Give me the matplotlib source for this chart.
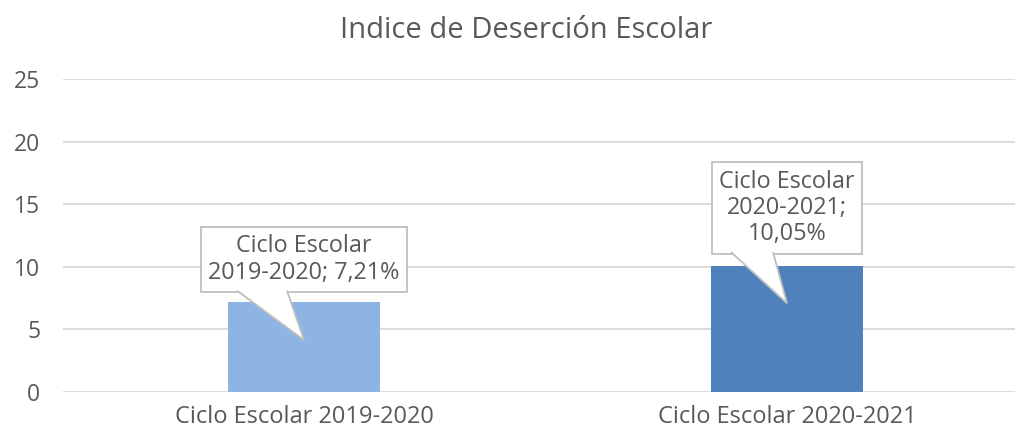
import matplotlib
matplotlib.use("Agg")
import matplotlib.pyplot as plt
from matplotlib.patches import Polygon

categories = ["Ciclo Escolar 2019-2020", "Ciclo Escolar 2020-2021"]
values = [7.21, 10.05]
callout_labels = ["Ciclo Escolar\n2019-2020; 7,21%", "Ciclo Escolar\n2020-2021;\n10,05%"]
bar_colors = ["#8EB4E3", "#4F81BD"]
yticks = [0, 5, 10, 15, 20, 25]
title = "Indice de Deserción Escolar"

plt.rcParams['font.family'] = ['Open Sans', 'DejaVu Sans']
txt = "#595959"
edge = "#bfbfbf"
W, H = 1015, 432
fig = plt.figure(figsize=(W / 100, H / 100), dpi=100)
ax = fig.add_axes([62.5 / W, 1 - 392 / H, 966 / W, 313 / H])
x = list(range(len(categories)))
ax.bar(x, values, width=0.315, color=bar_colors, zorder=2)
ax.set_xlim(-0.5, 1.5)
ax.set_ylim(0, 25)
ax.set_yticks(yticks)
ax.set_xticks(x)
ax.set_xticklabels(categories)
ax.tick_params(axis='both', length=0, colors=txt)
ax.tick_params(axis='y', pad=16, labelsize=16.5)
ax.tick_params(axis='x', pad=9.5, labelsize=17)
ax.grid(axis='y', color="#d9d9d9", linewidth=1.3, zorder=0)
for s in ax.spines.values():
    s.set_visible(False)

# callout layout (box centre in data y, wedge base offsets in px, tip fraction of bar)
text_y = [10.58, 14.7]
tip_frac = [0.575, 0.705]
base_off = [(-67, -17), (-56, -14)]

texts = []
for i, lab in enumerate(callout_labels):
    t = ax.text(x[i], text_y[i], lab, ha='center', va='center', fontsize=16.8,
                color=txt, linespacing=1.12, zorder=5,
                bbox=dict(boxstyle="square,pad=0.32", fc='white', ec=edge, lw=1.3))
    texts.append(t)

fig.canvas.draw()
inv = ax.transData.inverted()
for i, t in enumerate(texts):
    bb = t.get_bbox_patch().get_window_extent()
    cx_px = ax.transData.transform((x[i], 0))[0]
    ybot = bb.y0
    tip = ax.transData.transform((x[i], values[i] * tip_frac[i]))
    p_left = (cx_px + base_off[i][0], ybot + 1.5)
    p_right = (cx_px + base_off[i][1], ybot + 1.5)
    pts = [inv.transform(p) for p in (p_left, tip, p_right)]
    ax.add_patch(Polygon(pts, closed=False, fc='white', ec=edge, lw=1.3, zorder=6,
                         joinstyle='miter'))

fig.text(526 / W, 1 - 30 / H, title, ha='center', va='center', fontsize=21, color=txt)
fig.savefig("out.png", dpi=100)
